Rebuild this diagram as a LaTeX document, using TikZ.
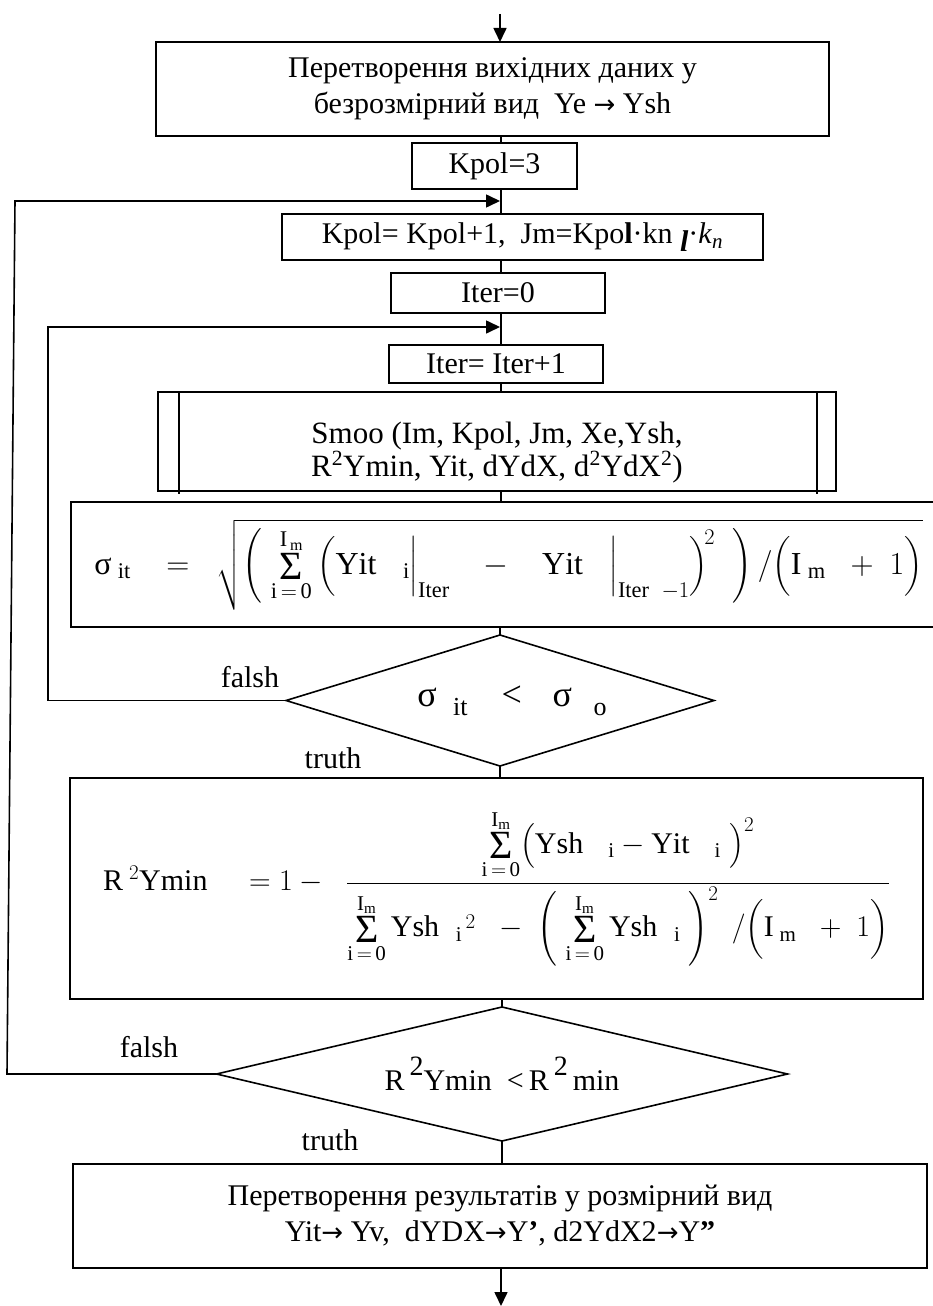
\RequirePackage{fix-cm}
\documentclass[tikz,border=0pt]{standalone}
\usepackage{amsmath}
\usepackage{fontspec}
\setmainfont{Liberation Serif}
\newfontfamily\arrfont{DejaVu Sans}
\usetikzlibrary{arrows.meta,shapes.geometric,calc}
\newcommand{\SumOp}{\mathop{\vcenter{\hbox{\fontsize{40}{40}\selectfont Σ}}}\limits}
\newcommand{\rmm}[1]{\mathrm{#1}}
\newcommand{\Arr}{{\arrfont\fontsize{26}{26}\selectfont →}}
\begin{document}
\begin{tikzpicture}[x=1pt,y=-1pt,
  every node/.style={inner sep=0pt, outer sep=0pt},
  lw/.style={line width=1.6pt},
  box/.style={draw, lw, rectangle, align=center, font=\fontsize{30}{36}\selectfont},
  dia/.style={draw, lw, diamond, font=\fontsize{30}{36}\selectfont},
  lab/.style={font=\fontsize{30}{36}\selectfont},
  conn/.style={lw},
  arr/.style={lw, -{Triangle[length=14pt,width=13pt]}},
]
\useasboundingbox (0,0) rectangle (933,1306);
\coordinate (ax) at (501,0);
\coordinate (start) at (500,14);
\coordinate (end) at (501,1306);

\node[box, minimum width=673pt, minimum height=94pt] (b1) at (492.5,89)
  {Перетворення вихідних даних у\\безрозмірний вид\ \ Ye \Arr\ Ysh};
\node[box, minimum width=165pt, minimum height=46pt] (k3) at (494.5,166) {Kpol=3};
\node[box, minimum width=481pt, minimum height=46pt] (k1) at (522.5,237)
  {Kpol= Kpol+1,\ \ Jm=Kpo\textbf{l}·kn \raisebox{-0.25em}{\textit{\textbf{l}}}·\textit{k}\textsubscript{\textit{n}}};
\node[box, minimum width=214pt, minimum height=40pt] (i0) at (498,293) {Iter=0};
\node[box, minimum width=214pt, minimum height=38pt] (i1) at (496,364) {Iter= Iter+1};
\node[box, minimum width=678pt, minimum height=99pt, font=\fontsize{31}{33}\selectfont] (sm) at (497,441.5)
  {\rule{0pt}{44pt}Smoo (Im, Kpol, Jm, Xe,Ysh,\\R\textsuperscript{2}Ymin, Yit, dYdX, d\textsuperscript{2}YdX\textsuperscript{2})};
\draw[lw] ($(sm.north west)+(21,0)$) -- ($(sm.south west)+(21,3)$);
\draw[lw] ($(sm.north east)+(-19,0)$) -- ($(sm.south east)+(-19,3)$);

\node[box, minimum width=863pt, minimum height=125pt, font=\fontsize{32}{38}\selectfont] (sg) at (502.5,564.5)
  {\hspace{12pt}$\text{σ}_{\;\rmm{it}}\;\;\;=\;\;\sqrt{\left(\;\SumOp_{\rmm{i\,=\,0}}^{\rmm{I}_{\,\rmm{m}}}\,\Bigl(\rmm{Yit}\;\;\;{}_{\rmm{i}}\Bigr|_{\rmm{Iter}}\;\;\;-\;\;\;\rmm{Yit}\;\;\;\Bigr|_{\rmm{Iter}\;\;-1}\Bigr)^{\!2}\;\;\right)/\Bigl(\rmm{I}_{\;\rmm{m}}\;\;+\;1\Bigr)}$};

\node[dia, aspect=3.27, minimum width=428pt, minimum height=131pt] (d1) at (500,700.5)
  {\fontsize{36}{36}\selectfont\hspace{24pt}σ\hspace{0.45em}\raisebox{-9pt}{\fontsize{26}{26}\selectfont it}\hspace{0.95em}<\hspace{0.85em}σ\hspace{0.6em}\raisebox{-9pt}{\fontsize{26}{26}\selectfont o}};

\node[box, minimum width=853pt, minimum height=221pt, font=\fontsize{30}{36}\selectfont] (r2) at (496.5,888.5)
  {$\rmm{R}^{\;2}\rmm{Ymin}\;\;\;\;=1-\;\;\dfrac{\SumOp_{\rmm{i\,=\,0}}^{\rmm{I}_{\rmm{m}}}\bigl(\rmm{Ysh}\;\;\;{}_{\rmm{i}}-\rmm{Yit}\;\;\;{}_{\rmm{i}}\;\bigr)^{2}}{\SumOp_{\rmm{i\,=\,0}}^{\rmm{I}_{\rmm{m}}}\rmm{Ysh}\;\;{}_{\rmm{i}}{}^{\,2}\;\;-\;\left(\;\SumOp_{\rmm{i\,=\,0}}^{\rmm{I}_{\rmm{m}}}\rmm{Ysh}\;\;{}_{\rmm{i}}\;\right)^{2}\;/\Bigl(\rmm{I}_{\;\rmm{m}}\;\;+\;1\Bigr)}$};

\node[dia, aspect=4.26, minimum width=571pt, minimum height=134pt] (d2) at (502,1074)
  {R\,\raisebox{0.5em}{\fontsize{28}{28}\selectfont 2}Ymin\ \ <\,R\,\raisebox{0.5em}{\fontsize{28}{28}\selectfont 2}\,min};

\node[box, minimum width=854pt, minimum height=104pt] (fb) at (500,1216)
  {Перетворення результатів у розмірний вид\\Yit\Arr\ Yv,\ \ dYDX\Arr Y\textbf{’}, d2YdX2\Arr Y\textbf{”}};

\node[lab] (f1) at (250,677) {falsh};
\node[lab] (t1) at (333,758) {truth};
\node[lab] (f2) at (149,1047) {falsh};
\node[lab] (t2) at (330,1140) {truth};

\draw[arr] (start) -- (b1.north -| start);
\draw[conn] (b1.south -| ax) -- (k3.north -| ax);
\draw[conn] (k3.south -| ax) -- (k1.north -| ax);
\draw[conn] (k1.south -| ax) -- (i0.north -| ax);
\draw[conn] (i0.south -| ax) -- (i1.north -| ax);
\draw[conn] (i1.south -| ax) -- (sm.north -| ax);
\draw[conn] (sm.south -| ax) -- (sg.north -| ax);
\draw[conn] (sg.south -| d1.north) -- (d1.north);
\draw[conn] (d1.south) -- (r2.north -| d1.south);
\draw[conn] (r2.south -| d2.north) -- (d2.north);
\draw[conn] (d2.south) -- (fb.north -| d2.south);
\draw[arr] (fb.south -| ax) -- (end);

\coordinate (j1) at (500,201);
\coordinate (oB) at (7,1074);
\coordinate (oT) at (15,201);
\draw[arr] (d2.west) -- (oB) -- (oT) -- (j1);

\coordinate (j2) at (500,327);
\coordinate (iB) at (48,700.5);
\coordinate (iT) at (48,327);
\draw[arr] (d1.west) -- (iB) -- (iT) -- (j2);
\end{tikzpicture}
\end{document}
